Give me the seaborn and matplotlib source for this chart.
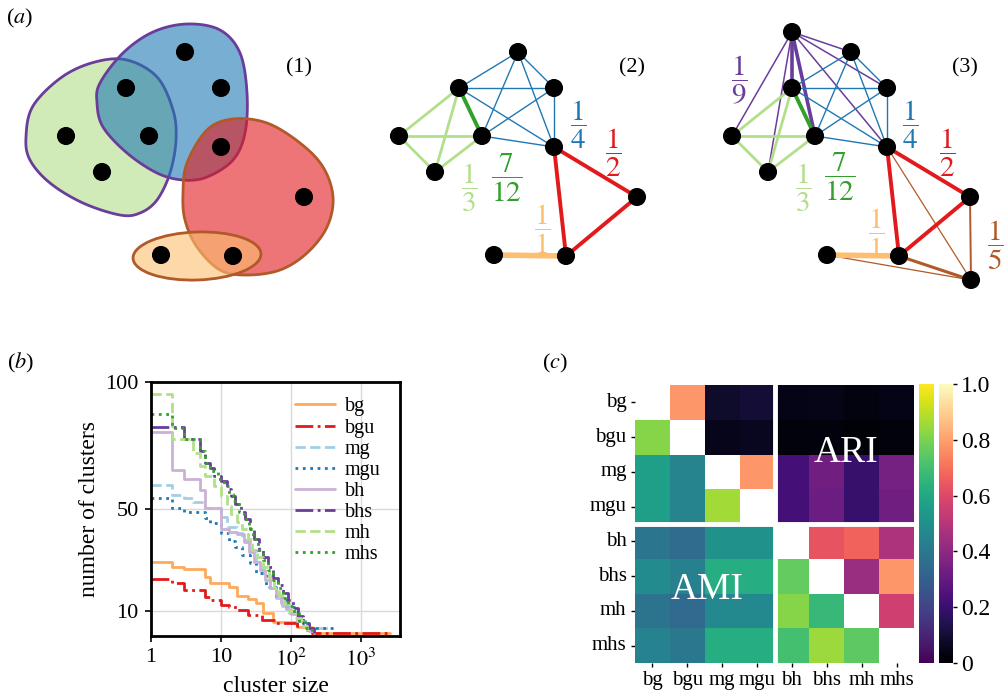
import numpy as np
import pandas as pd
import matplotlib
matplotlib.use("Agg")
import matplotlib.pyplot as plt
from matplotlib.patches import Ellipse
import seaborn as sns

# ---------------- data: panel (b) ----------------
methods = ["bg", "bgu", "mg", "mgu", "bh", "bhs", "mh", "mhs"]

size_bg = [1, 2, 3, 6, 7, 13, 17, 24, 32, 40, 56, 120, 200, 2600]
count_bg = [29, 27.3, 26.2, 23.1, 20.7, 19.4, 15.8, 14.5, 13, 9, 5.6, 3.5, 1, 1]

size_bgu = [1, 2, 3, 6, 7, 10, 13, 17, 24, 39, 62, 120, 160, 200, 2600]
count_bgu = [22.3, 20.7, 18.1, 15.5, 14.2, 12.2, 11.3, 10.2, 8.3, 6.3, 5.2, 4, 2.5, 1, 1]

size_mg = [1, 2, 3, 4, 6, 10, 12, 17, 20, 26, 32, 40, 50, 60, 75, 95, 120, 150, 180, 400]
count_mg = [59.4, 55.5, 54.2, 52.9, 50.3, 47, 43, 40.4, 37.8, 33.9, 29, 24, 19, 15, 12, 9, 6, 4, 3, 3]

size_mgu = [1, 2, 3, 6, 7, 10, 13, 16, 20, 26, 32, 44, 61, 85, 118, 150, 183, 450]
count_mgu = [54.2, 50.3, 49, 46.3, 44.4, 40.4, 37.5, 35.2, 32, 28.7, 24.8, 19.3, 15.4, 11.4, 7.5, 5, 3.2, 3.2]

size_bh = [1, 2, 3, 5, 6, 10, 13, 17, 21, 25, 30, 36, 42, 50, 60, 72, 86, 100, 120, 150, 180, 210]
count_bh = [80.3, 65.4, 61.7, 57.5, 50.3, 42, 41, 40, 37, 33, 29, 26, 22, 19, 16, 13, 10.5, 8.5, 6, 4, 2, 1]

size_bhs = [1, 3, 5, 6, 7, 8, 10, 12, 14, 16, 19, 22, 26, 30, 35, 40, 47, 55, 65, 77, 90, 105, 125, 150, 180, 210]
count_bhs = [82.3, 77.6, 73, 68, 66, 63, 61, 58, 55, 52, 49, 46, 42, 38, 34, 31, 27, 23, 20, 17, 14, 11, 8, 5, 3, 1]

size_mh = [1, 2, 4, 5, 6, 8, 10, 12, 14, 17, 20, 24, 28, 33, 40, 48, 57, 68, 80, 95, 115, 140, 170]
count_mh = [95.3, 77.6, 72, 67, 63, 59, 55, 51, 48, 45, 42, 38, 34, 31, 27, 23, 19, 16, 13, 10, 7, 4, 1]

size_mhs = [1, 2, 3, 5, 6, 7, 9, 11, 13, 15, 18, 21, 25, 29, 34, 40, 47, 55, 65, 77, 92, 110, 130, 160, 200]
count_mhs = [87.4, 82, 77.6, 73, 68, 65, 62, 59, 56, 53, 49, 46, 42, 38, 34, 30, 26, 22, 19, 15, 12, 9, 6, 3, 1]

curve_sizes = [size_bg, size_bgu, size_mg, size_mgu, size_bh, size_bhs, size_mh, size_mhs]
curve_counts = [count_bg, count_bgu, count_mg, count_mgu, count_bh, count_bhs, count_mh, count_mhs]
curve_colors = ["#fdaa5c", "#e31a1c", "#a6cee3", "#1f78b4", "#cab2d6", "#6a3d9a", "#b2df8a", "#33a02c"]
curve_styles = ["-", "-.", "--", ":", "-", "-.", "--", ":"]

x_ticks = [1, 10, 100, 1000]
x_ticklabels = ["1", "10", "$10^2$", "$10^3$"]
y_ticks = [10, 50, 100]

# ---------------- data: panel (c) ----------------
ami_lower = [
    [],
    [0.82],
    [0.56, 0.45],
    [0.56, 0.45, 0.86],
    [0.39, 0.35, 0.50, 0.50],
    [0.48, 0.43, 0.62, 0.62, 0.76],
    [0.38, 0.34, 0.47, 0.47, 0.82, 0.67],
    [0.44, 0.40, 0.62, 0.62, 0.70, 0.85, 0.75],
]
ari_upper = [
    [0.78, 0.08, 0.10, 0.04, 0.045, 0.03, 0.04],
    [0.05, 0.06, 0.02, 0.025, 0.015, 0.02],
    [0.78, 0.22, 0.33, 0.19, 0.34],
    [0.22, 0.32, 0.19, 0.33],
    [0.63, 0.67, 0.48],
    [0.43, 0.78],
    [0.56],
    [],
]
cbar_ticks = [0, 0.2, 0.4, 0.6, 0.8, 1.0]
cbar_labels = ["0", "0.2", "0.4", "0.6", "0.8", "1.0"]

# ---------------- data: panel (a) ----------------
node_x = [185, 126, 221, 66, 149, 221, 102, 304, 161, 233]   # A..J
node_y = [52, 88, 88, 136, 136, 147, 172, 197, 255, 256]
extra_x = [792, 971]   # P (top), K (bottom right) in panel (3)
extra_y = [32, 280]

green_blob = [(127, 60), (157, 77), (173, 110), (176, 140), (170, 173), (157, 200), (140, 213),
              (120, 215), (83, 203), (50, 183), (30, 160), (26, 137), (33, 106), (62, 77), (95, 62)]
blue_blob = [(100, 83), (123, 53), (153, 32), (187, 24), (220, 30), (240, 53), (247, 93), (245, 133),
             (233, 160), (207, 177), (183, 180), (157, 173), (127, 153), (103, 127), (97, 103)]
red_blob = [(187, 163), (207, 130), (233, 119), (267, 123), (300, 143), (323, 167), (333, 197),
            (327, 227), (307, 253), (280, 270), (247, 275), (220, 270), (197, 247), (185, 220), (183, 193)]

# ---------------- style ----------------
sns.set_theme(style="white")
plt.rcParams["font.family"] = ["Liberation Serif", "DejaVu Serif"]
plt.rcParams["mathtext.fontset"] = "stix"
for k in ["text.color", "axes.labelcolor", "xtick.color", "ytick.color"]:
    plt.rcParams[k] = "black"

W, H = 1006, 698
fig = plt.figure(figsize=(W / 100, H / 100), dpi=100)


def fx(x):
    return x / W


def fy(y):
    return 1 - y / H


# ================= panel (a) =================
axa = fig.add_axes([0, fy(300), 1, 300 / H])
axa.set_xlim(0, W)
axa.set_ylim(300, 0)
axa.axis("off")


def smooth_closed(pts, n=30):
    P = np.asarray(pts, float)
    N = len(P)
    out = []
    t = np.linspace(0, 1, n, endpoint=False)[:, None]
    for i in range(N):
        p0, p1, p2, p3 = P[i - 1], P[i], P[(i + 1) % N], P[(i + 2) % N]
        seg = 0.5 * ((2 * p1) + (-p0 + p2) * t + (2 * p0 - 5 * p1 + 4 * p2 - p3) * t ** 2
                     + (-p0 + 3 * p1 - 3 * p2 + p3) * t ** 3)
        out.append(seg)
    out = np.vstack(out)
    return out[:, 0], out[:, 1]


def rgba(hexc, a):
    c = matplotlib.colors.to_rgb(hexc)
    return (c[0], c[1], c[2], a)


for pts, fc, ec in [(green_blob, "#b2df8a", "#6a3d9a"), (blue_blob, "#1f78b4", "#6a3d9a"),
                    (red_blob, "#e31a1c", "#b15928")]:
    bx, by = smooth_closed(pts)
    axa.fill(bx, by, facecolor=rgba(fc, 0.6), edgecolor=ec, lw=2.0, zorder=1)
axa.add_patch(Ellipse((197, 256), 128, 48, angle=-2, facecolor=rgba("#fdbf6f", 0.6),
                      edgecolor="#b15928", lw=2.0, zorder=1))

A, B, C, D, E, F, G, Hn, I, J = range(10)
edges2 = [
    # (i, j, color, lw)
    (A, B, "#1f78b4", 1.0), (A, C, "#1f78b4", 1.0), (A, E, "#1f78b4", 1.0), (A, F, "#1f78b4", 1.0),
    (B, C, "#1f78b4", 1.0), (B, F, "#1f78b4", 1.0), (C, E, "#1f78b4", 1.0), (C, F, "#1f78b4", 1.0),
    (E, F, "#1f78b4", 1.0),
    (D, B, "#b2df8a", 2.0), (D, E, "#b2df8a", 2.0), (D, G, "#b2df8a", 2.0), (B, G, "#b2df8a", 2.0),
    (E, G, "#b2df8a", 2.0),
    (B, E, "#33a02c", 2.8),
    (F, Hn, "#e31a1c", 2.8), (F, J, "#e31a1c", 2.8), (Hn, J, "#e31a1c", 2.8),
    (I, J, "#fdbf6f", 4.0),
]
P_, K_ = 10, 11
edges3_extra = [
    (P_, D, "#6a3d9a", 1.1), (P_, G, "#6a3d9a", 1.1), (P_, A, "#6a3d9a", 1.1), (P_, C, "#6a3d9a", 1.1),
    (P_, F, "#6a3d9a", 1.1), (P_, B, "#6a3d9a", 2.6), (P_, E, "#6a3d9a", 2.6),
    (K_, I, "#b15928", 0.9), (K_, F, "#b15928", 0.9), (K_, Hn, "#b15928", 1.4), (K_, J, "#b15928", 2.2),
]

for off, panel in [(333, 2), (666, 3)]:
    xs = [x + off for x in node_x]
    ys = list(node_y)
    if panel == 3:
        xs = xs + extra_x
        ys = ys + extra_y
    elist = edges3_extra + edges2 if panel == 3 else edges2
    for i, j, c, lw in elist:
        axa.plot([xs[i], xs[j]], [ys[i], ys[j]], color=c, lw=lw, zorder=2, solid_capstyle="round")
    sns.scatterplot(x=xs, y=ys, ax=axa, color="black", s=170, edgecolor="none", zorder=5, legend=False)

sns.scatterplot(x=node_x, y=node_y, ax=axa, color="black", s=170, edgecolor="none", zorder=5, legend=False)
axa.set_xlim(0, W)
axa.set_ylim(300, 0)

frac_fs = 21
fracs2 = [(r"$\dfrac{1}{4}$", "#1f78b4", 578, 125), (r"$\dfrac{1}{2}$", "#e31a1c", 613, 153),
          (r"$\dfrac{7}{12}$", "#33a02c", 507, 178), (r"$\dfrac{1}{3}$", "#b2df8a", 469, 188),
          (r"$\dfrac{1}{1}$", "#fdbf6f", 542, 229)]
fracs3 = [(r"$\dfrac{1}{9}$", "#6a3d9a", 739, 80), (r"$\dfrac{1}{4}$", "#1f78b4", 910, 125),
          (r"$\dfrac{1}{2}$", "#e31a1c", 947, 153), (r"$\dfrac{7}{12}$", "#33a02c", 840, 177),
          (r"$\dfrac{1}{3}$", "#b2df8a", 803, 188), (r"$\dfrac{1}{1}$", "#fdbf6f", 876, 233),
          (r"$\dfrac{1}{5}$", "#b15928", 995, 245)]
for s, c, x, y in fracs2 + fracs3:
    axa.text(x, y, s, color=c, fontsize=frac_fs, ha="center", va="center")

for s, x, y in [("(1)", 299, 68), ("(2)", 632, 68), ("(3)", 965, 68)]:
    axa.text(x, y, s, fontsize=16, ha="center", va="center")

fig.text(fx(20), fy(18), r"($\mathit{a}$)", fontsize=16, ha="center", va="center")
fig.text(fx(21), fy(363), r"($\mathit{b}$)", fontsize=16, ha="center", va="center")
fig.text(fx(555), fy(363), r"($\mathit{c}$)", fontsize=16, ha="center", va="center")

# ================= panel (b) =================
axb = fig.add_axes([fx(151), fy(636), 249 / W, 254 / H])
for name, xs, ys, c, ls in zip(methods, curve_sizes, curve_counts, curve_colors, curve_styles):
    df = pd.DataFrame({"size": xs, "count": ys})
    sns.lineplot(data=df, x="size", y="count", ax=axb, color=c, linestyle=ls, lw=2.0,
                 drawstyle="steps-post", label=name, estimator=None)
axb.set_xscale("log")
axb.set_xlim(1, 3600)
axb.set_ylim(0, 100)
axb.set_xticks(x_ticks)
axb.set_xticklabels(x_ticklabels)
axb.xaxis.set_minor_locator(matplotlib.ticker.NullLocator())
axb.set_yticks(y_ticks)
axb.set_yticklabels([str(v) for v in y_ticks])
axb.grid(True, color="#d9d9d9", lw=1.0)
axb.set_axisbelow(True)
for sp in axb.spines.values():
    sp.set_color("black")
    sp.set_linewidth(2.0)
axb.tick_params(axis="both", which="major", labelsize=16, length=4, width=1.2, color="black",
                left=True, bottom=True, direction="out", pad=5)
axb.set_xlabel("cluster size", fontsize=17, labelpad=4)
axb.set_ylabel("number of clusters", fontsize=17, labelpad=4)
leg = axb.legend(loc="upper left", bbox_to_anchor=(0.52, 0.995), frameon=False, fontsize=14.5,
                 labelspacing=0.1, handlelength=2.0, handletextpad=0.5, borderpad=0.2)

# ================= panel (c) =================
n = len(methods)
ami = np.full((n, n), np.nan)
ari = np.full((n, n), np.nan)
for i, row in enumerate(ami_lower):
    for j, v in enumerate(row):
        ami[i, j] = v
for i, row in enumerate(ari_upper):
    for k, v in enumerate(row):
        ari[i, i + 1 + k] = v

axc = fig.add_axes([fx(635), fy(663), 279 / W, 278 / H])
cax1 = fig.add_axes([fx(919), fy(663), 15 / W, 279 / H])
cax2 = fig.add_axes([fx(939), fy(663), 14 / W, 279 / H])
sns.heatmap(pd.DataFrame(ami, index=methods, columns=methods), ax=axc, cmap="viridis",
            vmin=0, vmax=1, cbar_ax=cax1)
sns.heatmap(pd.DataFrame(ari, index=methods, columns=methods), ax=axc, cmap="magma",
            vmin=0, vmax=1, cbar_ax=cax2)
axc.axhline(4, color="white", lw=3.5)
axc.axvline(4, color="white", lw=3.5)
axc.set_xticks(np.arange(n) + 0.5)
axc.set_xticklabels(methods, rotation=0, fontsize=15)
axc.set_yticks(np.arange(n) + 0.5)
axc.set_yticklabels(methods, rotation=0, fontsize=15)
axc.tick_params(left=True, bottom=True, length=3, width=1, color="black", pad=3)
axc.text(6.05, 1.95, "ARI", color="white", fontsize=27, ha="center", va="center")
axc.text(2.06, 5.9, "AMI", color="white", fontsize=27, ha="center", va="center")

cax1.set_yticks([])
cax1.tick_params(right=False, left=False)
cax2.set_yticks(cbar_ticks)
cax2.set_yticklabels(cbar_labels, fontsize=17)
cax2.tick_params(right=True, length=3, width=1, color="black", pad=3)

fig.savefig("out.png", dpi=100)
